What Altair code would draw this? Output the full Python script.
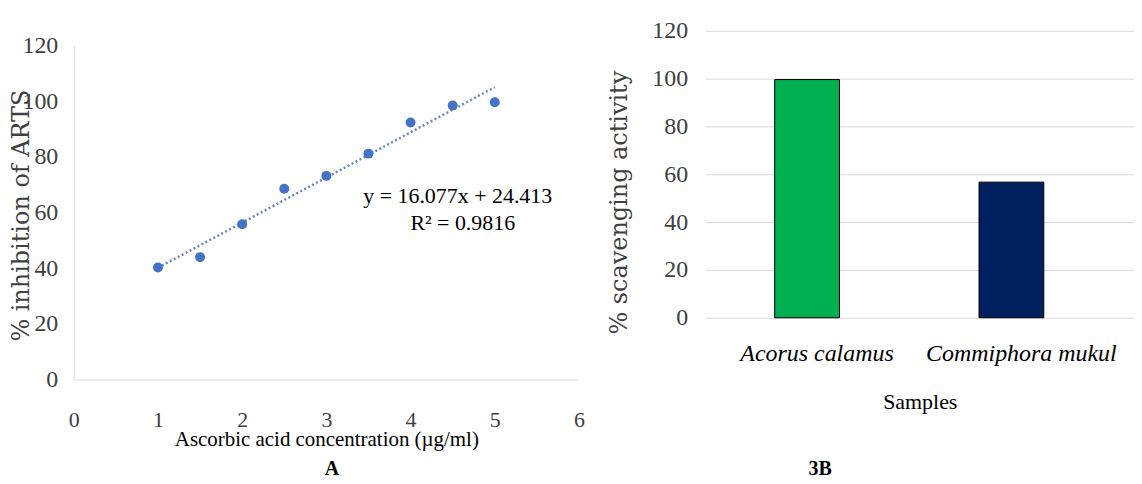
import altair as alt
import pandas as pd

# ---- Panel A data ----
conc = [1, 1.5, 2, 2.5, 3, 3.5, 4, 4.5, 5]
inhibition = [40.3, 44.0, 55.8, 68.6, 73.2, 81.2, 92.4, 98.5, 99.7]
a_x_ticks = [0, 1, 2, 3, 4, 5, 6]
a_y_ticks = [0, 20, 40, 60, 80, 100, 120]
eq_lines = ["y = 16.077x + 24.413", "R² = 0.9816"]
eq_x = [4.56, 4.62]
eq_y = [66.0, 56.3]

# ---- Panel 3B data ----
samples = ["Acorus calamus", "Commiphora mukul"]
scavenging = [99.6, 56.7]
bar_colors = ["#00B050", "#002060"]
b_y_ticks = [0, 20, 40, 60, 80, 100, 120]

SERIF = "Liberation Serif"
WIDE_SERIF = "DejaVu Serif"
AXIS_GRAY = "#d9d9d9"
LABEL_C = "#404040"

df_a = pd.DataFrame({"conc": conc, "inhibition": inhibition})
df_eq = pd.DataFrame({"x": eq_x, "y": eq_y, "t": eq_lines})
df_b = pd.DataFrame({"sample": samples, "value": scavenging})

WA, HA = 507, 335
WB, HB = 430, 288

xA = alt.X("conc:Q", scale=alt.Scale(domain=[0, 6], nice=False),
           axis=alt.Axis(values=a_x_ticks, format="d", title="Ascorbic acid concentration  (µg/ml)",
                         grid=False, ticks=False, domainColor=AXIS_GRAY, labelFlush=False,
                         labelPadding=30, labelFontSize=22, labelFont=SERIF, labelColor=LABEL_C,
                         titleFont=SERIF, titleFontSize=21, titleFontWeight="normal",
                         titleColor="#000000", titleBaseline="middle", titleY=60))
yA = alt.Y("inhibition:Q", scale=alt.Scale(domain=[0, 120], nice=False),
           axis=alt.Axis(values=a_y_ticks, title="% inhibition  of ARTS", grid=False, ticks=False,
                         domainColor=AXIS_GRAY, labelFlush=False, labelPadding=16,
                         labelFontSize=24, labelFont=SERIF, labelColor=LABEL_C,
                         titleFont=WIDE_SERIF, titleFontSize=24, titleFontWeight="normal",
                         titleColor=LABEL_C, titleBaseline="middle", titleX=-52, titleY=170))

base_a = alt.Chart(df_a)
trend = base_a.transform_regression("conc", "inhibition", extent=[1, 5]).mark_line(
    strokeDash=[2, 2.5], color="#6a86c4", strokeWidth=2.5).encode(x=xA, y=yA)
pts = base_a.mark_circle(size=100, color="#4472C4", opacity=1).encode(x=xA, y=yA)
eq = alt.Chart(df_eq).mark_text(font=SERIF, fontSize=22, color="#000000").encode(
    x="x:Q", y="y:Q", text="t:N")
lab_a = alt.Chart(pd.DataFrame({"t": ["A"]})).mark_text(
    font=SERIF, fontSize=20, fontWeight="bold", color="#000000").encode(
    x=alt.value(259), y=alt.value(HA + 90), text="t:N")

chart_a = alt.layer(trend, pts, eq, lab_a).properties(width=WA, height=HA)

spacer = alt.Chart(pd.DataFrame({"v": [0]})).mark_point(opacity=0, size=1).encode(
    x=alt.value(0), y=alt.value(0)).properties(width=WA, height=1)

left = alt.vconcat(spacer, chart_a, spacing=2)

xB = alt.X("sample:N", sort=samples,
           scale=alt.Scale(paddingInner=0.683, paddingOuter=0.39, align=0.434),
           axis=alt.Axis(title="Samples", labelAngle=0, labelFontStyle="italic",
                         labelFont=SERIF, labelFontSize=24, labelColor="#000000",
                         labelPadding=24, labelOffset=10, labelLimit=400,
                         domain=False, ticks=False,
                         titleFont=SERIF, titleFontSize=22, titleFontWeight="normal",
                         titleColor="#000000", titlePadding=26))
yB = alt.Y("value:Q", scale=alt.Scale(domain=[0, 120], nice=False),
           axis=alt.Axis(values=b_y_ticks, title="% scavenging  activity", grid=True,
                         gridColor=AXIS_GRAY, domain=False, ticks=False, labelFlush=False,
                         labelPadding=18, labelFontSize=24, labelFont=SERIF,
                         labelColor=LABEL_C, titleFont=WIDE_SERIF, titleFontSize=24,
                         titleFontWeight="normal", titleColor=LABEL_C,
                         titleBaseline="middle", titleX=-86, titleY=172))

bars = alt.Chart(df_b).mark_bar(stroke="#000000", strokeWidth=1).encode(
    x=xB, y=yB,
    color=alt.Color("sample:N", scale=alt.Scale(domain=samples, range=bar_colors), legend=None))
lab_b = alt.Chart(pd.DataFrame({"t": ["3B"]})).mark_text(
    font=SERIF, fontSize=20, fontWeight="bold", color="#000000").encode(
    x=alt.value(115), y=alt.value(HB + 152), text="t:N")

chart_b = alt.layer(bars, lab_b).properties(width=WB, height=HB)

chart = alt.hconcat(left, chart_b, spacing=23).properties(
    padding={"left": 2, "top": 10, "right": 0, "bottom": 0},
    background="white"
).configure_view(stroke=None)

chart.save("out.html", embed_options={"renderer": "svg", "actions": False})
